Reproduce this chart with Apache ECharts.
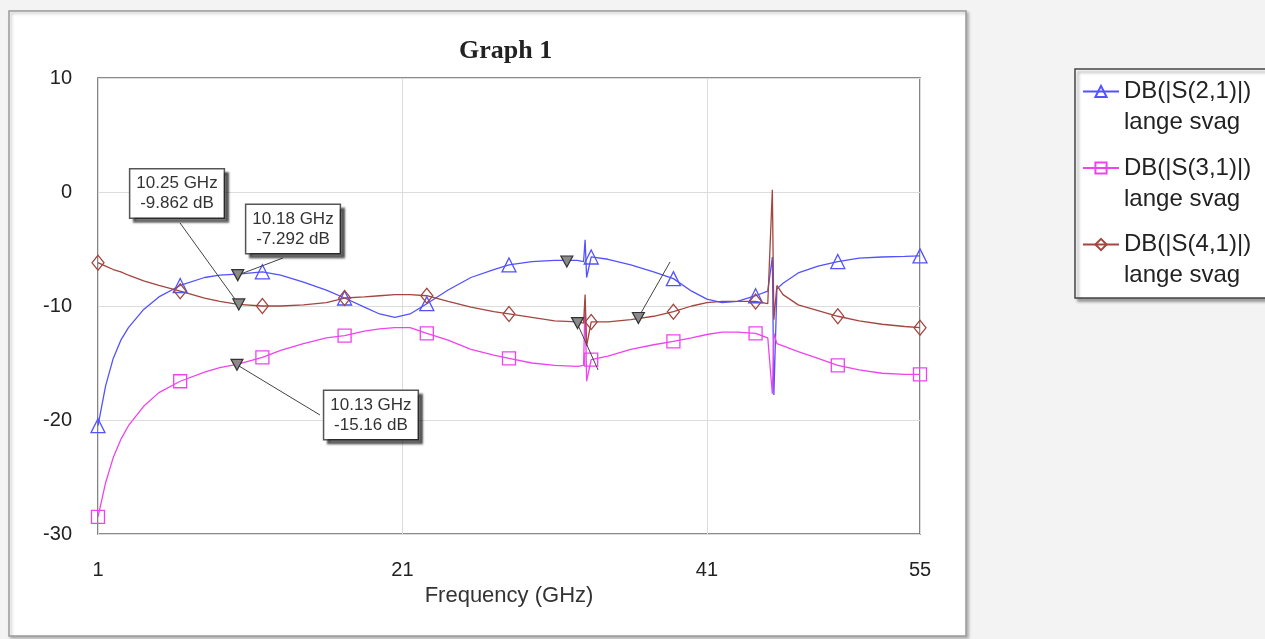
<!DOCTYPE html>
<html><head><meta charset="utf-8">
<script src="https://cdn.jsdelivr.net/npm/echarts@6/dist/echarts.min.js"></script>
<style>html,body{margin:0;padding:0;background:#f3f3f3}#c{width:1265px;height:639px}</style>
</head><body><div id="c"></div>
<script>
// ---- data ----
const freqs = [1, 1.5, 2, 2.5, 3, 4, 5, 6.4, 8, 9, 10.2, 11.8, 13, 14.5, 16, 17.2, 18.5, 19.5, 20.5, 21.5, 22.6, 24, 25.5, 27, 28, 29.5, 31, 32.5, 32.9, 33.0, 33.1, 33.4, 34.5, 36, 37.5, 38.8, 40, 41, 42, 43, 44.2, 45.0, 45.3, 45.4, 45.6, 46, 47, 48.3, 49.6, 51, 52.5, 54, 55];
const s21 = [-20.5, -17.0, -14.6, -13.0, -11.9, -10.3, -9.2, -8.2, -7.5, -7.3, -7.2, -7.0, -7.3, -7.9, -8.6, -9.3, -10.1, -10.7, -11.0, -10.7, -9.8, -8.6, -7.5, -6.8, -6.4, -6.1, -6.0, -6.0, -6.1, -4.2, -7.5, -5.7, -5.9, -6.4, -7.0, -7.6, -8.7, -9.4, -9.7, -9.6, -9.1, -8.7, -5.7, -17.8, -8.5, -8.0, -7.1, -6.5, -6.1, -5.8, -5.7, -5.65, -5.6];
const s31 = [-28.5, -25.5, -23.3, -21.7, -20.5, -18.8, -17.6, -16.6, -15.8, -15.4, -15.1, -14.5, -13.9, -13.3, -12.8, -12.6, -12.2, -12.0, -11.9, -11.9, -12.4, -13.0, -13.8, -14.3, -14.6, -15.0, -15.2, -15.3, -15.2, -9.5, -16.6, -14.7, -14.4, -13.8, -13.4, -13.1, -12.8, -12.5, -12.3, -12.3, -12.4, -12.8, -17.7, -12.4, -13.3, -13.5, -14.0, -14.6, -15.2, -15.6, -15.9, -16.0, -16.0];
const s41 = [-6.2, -6.5, -6.8, -7.0, -7.3, -7.8, -8.2, -8.7, -9.3, -9.6, -9.85, -10.0, -10.0, -9.9, -9.7, -9.3, -9.2, -9.1, -9.0, -9.0, -9.1, -9.6, -10.1, -10.5, -10.7, -11.0, -11.3, -11.4, -11.5, -9.0, -13.5, -11.4, -11.4, -11.2, -10.9, -10.5, -10.0, -9.7, -9.6, -9.6, -9.6, -9.8, 0.2, -11.2, -8.2, -9.0, -9.9, -10.4, -10.9, -11.3, -11.6, -11.8, -11.9];
const seriesNames = ['DB(|S(2,1)|)', 'DB(|S(3,1)|)', 'DB(|S(4,1)|)'];
const seriesSub = 'lange svag';
const markerFreqs = [1, 6.4, 11.8, 17.2, 22.6, 28, 33.4, 38.8, 44.2, 49.6, 55];
const xTicks = [1, 21, 41, 55];
const annotFreq = [10.25, 10.18, 10.13];
const annotDb = [-9.862, -7.292, -15.16];
const extraMarkFreq = [31.8, 32.5, 36.5];
const extraMarkDb = [-6.1, -11.5, -11.05];

// ---- layout of annotation boxes (data units) ----
const boxAt = [[6.19, -0.13], [13.81, -3.25], [18.93, -19.56]];
const leaderFrom = [[6.39, -2.72], [13.15, -5.79], [15.58, -19.56]];
const extraLeaders = [[[32.53, -11.67], [33.85, -15.61]], [[36.48, -11.05], [38.58, -6.14]]];

const colors = ['#5252ff', '#ee44ee', '#a3463f'];
const symbols = ['triangle', 'rect', 'diamond'];
const symSizes = [14, 13, [12, 15]];
const FONT = 'Liberation Sans';

function build(vals) {
  return freqs.map((f, i) => markerFreqs.includes(f) ? [f, vals[i]] : { value: [f, vals[i]], symbol: 'none' });
}
const vals = [s21, s31, s41];
const lineSeries = vals.map((v, k) => ({
  type: 'line', name: seriesNames[k], data: build(v),
  symbol: symbols[k], symbolSize: symSizes[k], showAllSymbol: true, smooth: false,
  lineStyle: { color: colors[k], width: 1.3 },
  itemStyle: { color: 'rgba(255,255,255,0)', borderColor: colors[k], borderWidth: 1.3 },
  z: 2, silent: true, animation: false
}));

const chart = echarts.init(document.getElementById('c'), null, { renderer: 'canvas' });
chart.setOption({
  animation: false,
  backgroundColor: '#f3f3f3',
  graphic: [
    { type: 'rect', z: -10, shape: { x: 9, y: 11, width: 957, height: 625 },
      style: { fill: '#fff', stroke: '#9a9a9a', lineWidth: 1.5, shadowColor: 'rgba(0,0,0,0.25)', shadowOffsetX: 2, shadowOffsetY: 2, shadowBlur: 3 } },
    { type: 'rect', z: 1, shape: { x: 1075, y: 69, width: 220, height: 229 },
      style: { fill: '#fff', stroke: '#444', lineWidth: 1.5, shadowColor: 'rgba(0,0,0,0.35)', shadowOffsetX: 3, shadowOffsetY: 3, shadowBlur: 3 } }
  ],
  title: {
    text: 'Graph 1', left: 459, top: 38, padding: 0,
    textStyle: { fontFamily: 'Liberation Serif', fontSize: 26, fontWeight: 'bold', color: '#222' }
  },
  legend: {
    data: seriesNames, orient: 'vertical', left: 1082, top: 45, padding: 0,
    itemWidth: 36, itemHeight: 14, itemGap: -16.5,
    textStyle: { fontFamily: FONT, fontSize: 24, lineHeight: 31, color: '#222' },
    formatter: n => '\n' + n + '\n' + seriesSub,
    selectedMode: false, z: 5
  },
  grid: {
    left: 98, right: 345, top: 78, bottom: 105, show: true,
    borderColor: '#666', borderWidth: 1.6, backgroundColor: '#fff'
  },
  xAxis: {
    type: 'value', min: 1, max: 55,
    axisLine: { show: false },
    axisTick: { show: false, customValues: xTicks },
    axisLabel: { customValues: xTicks, fontFamily: FONT, fontSize: 20, color: '#222', margin: 26 },
    splitLine: { show: true, lineStyle: { color: '#dcdcdc', width: 1 } },
    name: 'Frequency (GHz)', nameLocation: 'middle', nameGap: 50,
    nameTextStyle: { fontFamily: FONT, fontSize: 22, color: '#333' }
  },
  yAxis: {
    type: 'value', min: -30, max: 10, interval: 10,
    axisLine: { show: false }, axisTick: { show: false },
    axisLabel: { fontFamily: FONT, fontSize: 20, color: '#222', margin: 26 },
    splitLine: { show: true, lineStyle: { color: '#dcdcdc', width: 1 } }
  },
  series: [
    ...lineSeries,
    { type: 'lines', coordinateSystem: 'cartesian2d', silent: true, z: 3,
      lineStyle: { color: '#444', width: 1, opacity: 1 },
      data: [
        ...annotFreq.map((f, i) => ({ coords: [leaderFrom[i], [f, annotDb[i]]] })),
        ...extraLeaders.map(c => ({ coords: c }))
      ] },
    { type: 'scatter', silent: true, z: 4, symbol: 'triangle', symbolRotate: 180, symbolSize: [12, 11],
      itemStyle: { color: '#8a8a8a', borderColor: '#333', borderWidth: 1.2, opacity: 1 },
      data: [...annotFreq.map((f, i) => [f, annotDb[i]]), ...extraMarkFreq.map((f, i) => [f, extraMarkDb[i]])] },
    { type: 'scatter', silent: true, z: 6, symbolSize: 1, itemStyle: { color: 'rgba(0,0,0,0)', opacity: 1 },
      label: { show: true, position: 'inside', opacity: 1, fontFamily: FONT, fontSize: 17, lineHeight: 20, color: '#333',
        backgroundColor: '#fff', borderColor: '#555', borderWidth: 1.5, padding: [4, 6, 4, 6],
        shadowColor: 'rgba(0,0,0,0.5)', shadowOffsetX: 4, shadowOffsetY: 4, shadowBlur: 2,
        formatter: p => p.data.name },
      data: annotFreq.map((f, i) => ({ value: boxAt[i], name: f + ' GHz\n' + annotDb[i] + ' dB' })) }
  ]
});
</script></body></html>
